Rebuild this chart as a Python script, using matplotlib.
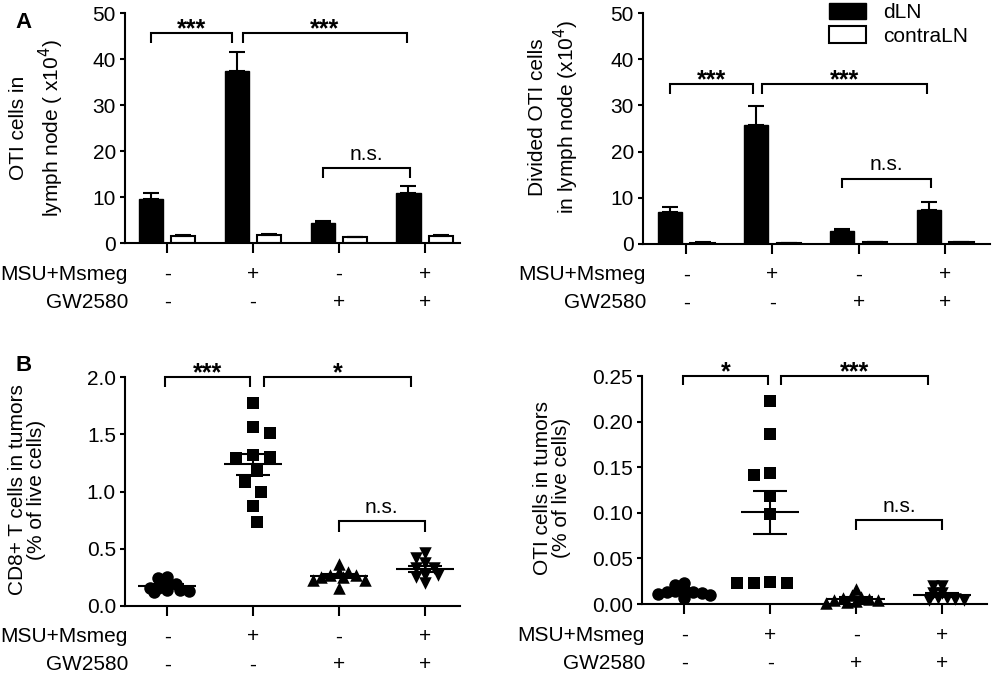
import numpy as np
import matplotlib.pyplot as plt
from matplotlib.patches import Patch

plt.rcParams['font.family'] = ['Liberation Sans', 'DejaVu Sans']
plt.rcParams['axes.linewidth'] = 1.5

# === Data ===
groups = np.arange(4)
msu_row = ['-', '+', '-', '+']
gw_row = ['-', '-', '+', '+']
row_names = ['MSU+Msmeg', 'GW2580']
legend_labels = ['dLN', 'contraLN']

# A, left: OTI cells in lymph node (x10^4), mean and SEM
oti_ln_dln = [9.6, 37.5, 4.3, 10.9]
oti_ln_dln_sem = [1.3, 4.0, 0.5, 1.6]
oti_ln_contra = [1.6, 1.8, 1.3, 1.6]
oti_ln_contra_sem = [0.15, 0.2, 0.1, 0.15]

# A, right: divided OTI cells in lymph node (x10^4)
div_ln_dln = [6.9, 25.7, 2.9, 7.4]
div_ln_dln_sem = [1.1, 4.2, 0.4, 1.7]
div_ln_contra = [0.3, 0.2, 0.35, 0.35]
div_ln_contra_sem = [0.05, 0.05, 0.05, 0.05]

# B, left: CD8+ T cells in tumors (% of live cells), one value per mouse
cd8_g0 = [0.256, 0.242, 0.198, 0.19, 0.16, 0.16, 0.14, 0.14, 0.13, 0.12]
cd8_g1 = [1.77, 1.56, 1.51, 1.32, 1.30, 1.29, 1.18, 1.08, 1.00, 0.87, 0.73]
cd8_g2 = [0.37, 0.30, 0.30, 0.27, 0.27, 0.25, 0.25, 0.23, 0.23, 0.16]
cd8_g3 = [0.46, 0.42, 0.375, 0.33, 0.33, 0.27, 0.27, 0.25, 0.20]

# B, right: OTI cells in tumors (% of live cells)
oti_t_g0 = [0.023, 0.021, 0.016, 0.014, 0.013, 0.013, 0.012, 0.011, 0.010, 0.007]
oti_t_g1 = [0.223, 0.186, 0.144, 0.142, 0.118, 0.099, 0.0245, 0.023, 0.0227, 0.0227]
oti_t_g2 = [0.016, 0.010, 0.008, 0.007, 0.005, 0.004, 0.004, 0.003, 0.002, 0.001]
oti_t_g3 = [0.0197, 0.0197, 0.012, 0.0117, 0.0066, 0.0066, 0.005, 0.004, 0.004]

FS = 15

fig = plt.figure(figsize=(9.94, 6.77), dpi=100)
axA1 = fig.add_axes([0.1258, 0.641, 0.337, 0.3397])
axA2 = fig.add_axes([0.6469, 0.6396, 0.349, 0.341])
axB1 = fig.add_axes([0.1258, 0.1049, 0.337, 0.338])
axB2 = fig.add_axes([0.6459, 0.1078, 0.347, 0.3368])


def style_axis(ax, xlim, ylim, yticks, fmt):
    ax.spines['top'].set_visible(False)
    ax.spines['right'].set_visible(False)
    ax.set_xlim(*xlim)
    ax.set_ylim(*ylim)
    ax.set_yticks(yticks)
    ax.set_yticklabels([fmt.format(t) for t in yticks])
    ax.set_xticks(groups)
    ax.set_xticklabels([])
    ax.tick_params(axis='y', direction='out', length=3.6, width=1.5,
                   labelsize=FS, pad=3)
    ax.tick_params(axis='x', direction='out', length=7, width=1.5)
    # treatment rows under the axis
    for name, row, dy in zip(row_names, [msu_row, gw_row], [-31, -59]):
        ax.annotate(name, xy=(0, 0), xycoords='axes fraction',
                    xytext=(3, dy), textcoords='offset pixels',
                    ha='right', va='center', fontsize=FS)
        for g, s in zip(groups, row):
            ax.annotate(s, xy=(g, 0), xycoords=('data', 'axes fraction'),
                        xytext=(0, dy), textcoords='offset pixels',
                        ha='center', va='center', fontsize=FS)


def bracket(ax, x1, x2, top, drop, label, text_dy):
    ax.plot([x1, x1, x2, x2], [top - drop, top, top, top - drop],
            color='k', lw=1.5, clip_on=False, solid_capstyle='butt',
            solid_joinstyle='miter')
    big = label != 'n.s.'
    ax.annotate(label, xy=((x1 + x2) / 2, top), xycoords='data',
                xytext=(0, text_dy), textcoords='offset pixels',
                ha='center', va='baseline', fontsize=18 if big else FS,
                fontweight='bold' if big else 'normal',
                annotation_clip=False)


def bar_panel(ax, dln, dln_sem, contra, contra_sem):
    w = 0.28
    off = 0.19
    ax.bar(groups - off, dln, w, color='k', edgecolor='k', lw=1.0, zorder=2)
    ax.bar(groups + off, contra, w, color='white', edgecolor='k', lw=1.5,
           zorder=2)
    zeros = np.zeros(4)
    ax.errorbar(groups - off, dln, yerr=[zeros, dln_sem], fmt='none',
                ecolor='k', elinewidth=1.5, capsize=6, capthick=1.5, zorder=3)
    ax.errorbar(groups + off, contra, yerr=[zeros, contra_sem], fmt='none',
                ecolor='k', elinewidth=1.5, capsize=6, capthick=1.5, zorder=3)


def swarm(ax, x0, vals, size_px, overlap=0.6, step_frac=0.35):
    # spread points sideways so markers do not sit on top of each other
    t = ax.transData
    ppu_x = t.transform((1, 0))[0] - t.transform((0, 0))[0]
    ys = [t.transform((0, v))[1] for v in vals]
    placed = []
    offs = []
    step = size_px * step_frac
    for i, y in enumerate(ys):
        k = 0
        while True:
            if k == 0:
                cands = [0.0]
            elif i % 2:
                cands = [-k * step, k * step]
            else:
                cands = [k * step, -k * step]
            ok = None
            for c in cands:
                if all((c - px) ** 2 + (y - py) ** 2 >= (size_px * overlap) ** 2
                       for px, py in placed):
                    ok = c
                    break
            if ok is not None:
                placed.append((ok, y))
                offs.append(ok / ppu_x)
                break
            k += 1
    return x0 + np.array(offs)


def scatter_panel(ax, data, markers, sizes, overlaps):
    for g, vals, m, ms, ov in zip(groups, data, markers, sizes, overlaps):
        vals = np.array(vals)
        xs = swarm(ax, g, vals, ms * 1.39, overlap=ov)
        ax.scatter(xs, vals, marker=m, s=ms ** 2, color='k', linewidths=0,
                   zorder=3, clip_on=False)
        mean = vals.mean()
        sem = vals.std(ddof=1) / np.sqrt(len(vals))
        ax.hlines(mean, g - 0.34, g + 0.34, color='k', lw=1.5, zorder=4)
        ax.hlines([mean - sem, mean + sem], g - 0.2, g + 0.2, color='k',
                  lw=1.5, zorder=4)
        ax.vlines(g, mean - sem, mean + sem, color='k', lw=1.5, zorder=4)


# === A left ===
style_axis(axA1, (-0.49, 3.41), (0, 50), [0, 10, 20, 30, 40, 50], '{:.0f}')
bar_panel(axA1, oti_ln_dln, oti_ln_dln_sem, oti_ln_contra, oti_ln_contra_sem)
bracket(axA1, -0.19, 0.76, 45.6, 2.1, '***', -3)
bracket(axA1, 0.88, 2.79, 45.6, 2.1, '***', -3)
bracket(axA1, 1.81, 2.83, 16.3, 2.2, 'n.s.', 8)
axA1.set_ylabel('OTI cells in\nlymph node ( x10$^4$)', fontsize=FS,
                linespacing=1.4)
axA1.yaxis.set_label_coords(-0.175, 0.5)

# === A right ===
style_axis(axA2, (-0.5, 3.52), (0, 50), [0, 10, 20, 30, 40, 50], '{:.0f}')
bar_panel(axA2, div_ln_dln, div_ln_dln_sem, div_ln_contra, div_ln_contra_sem)
bracket(axA2, -0.19, 0.78, 34.6, 2.1, '***', -3)
bracket(axA2, 0.88, 2.79, 34.6, 2.1, '***', -3)
bracket(axA2, 1.81, 2.84, 14.0, 1.9, 'n.s.', 9)
axA2.set_ylabel('Divided OTI cells\nin lymph node (x10$^4$)', fontsize=FS,
                linespacing=1.2)
axA2.yaxis.set_label_coords(-0.18, 0.55)
axA2.legend(handles=[Patch(facecolor='k', edgecolor='k'),
                     Patch(facecolor='white', edgecolor='k', lw=1.5)],
            labels=legend_labels, loc='upper left',
            bbox_to_anchor=(0.535, 1.045), frameon=False, fontsize=FS,
            handlelength=1.8, handleheight=0.85, handletextpad=0.8,
            labelspacing=0.2, borderpad=0, borderaxespad=0)

# === B left ===
style_axis(axB1, (-0.49, 3.41), (0, 2.0), [0, 0.5, 1.0, 1.5, 2.0], '{:.1f}')
scatter_panel(axB1, [cd8_g0, cd8_g1, cd8_g2, cd8_g3],
              ['o', 's', '^', 'v'], [9, 8.5, 9, 9], [0.5, 1.4, 0.55, 0.6])
bracket(axB1, -0.03, 0.97, 2.0, 0.09, '***', -3)
bracket(axB1, 1.13, 2.84, 2.0, 0.09, '*', -3)
bracket(axB1, 2.0, 3.0, 0.74, 0.09, 'n.s.', 8)
axB1.set_ylabel('CD8+ T cells in tumors\n(% of live cells)', fontsize=FS,
                linespacing=1.0)
axB1.yaxis.set_label_coords(-0.235, 0.507)

# === B right ===
style_axis(axB2, (-0.49, 3.52), (0, 0.25), [0, 0.05, 0.10, 0.15, 0.20, 0.25],
           '{:.2f}')
scatter_panel(axB2, [oti_t_g0, oti_t_g1, oti_t_g2, oti_t_g3],
              ['o', 's', '^', 'v'], [9, 8.5, 9, 9], [0.5, 1.4, 0.5, 0.5])
bracket(axB2, -0.01, 0.98, 0.25, 0.01, '*', -3)
bracket(axB2, 1.13, 2.84, 0.25, 0.01, '***', -3)
bracket(axB2, 2.0, 3.0, 0.092, 0.011, 'n.s.', 8)
axB2.set_ylabel('OTI cells in tumors\n(% of live cells)', fontsize=FS,
                linespacing=1.0)
axB2.yaxis.set_label_coords(-0.205, 0.51)

fig.text(0.016, 0.982, 'A', fontsize=16, fontweight='bold', va='top')
fig.text(0.016, 0.475, 'B', fontsize=16, fontweight='bold', va='top')

fig.savefig('out.png', dpi=100)
